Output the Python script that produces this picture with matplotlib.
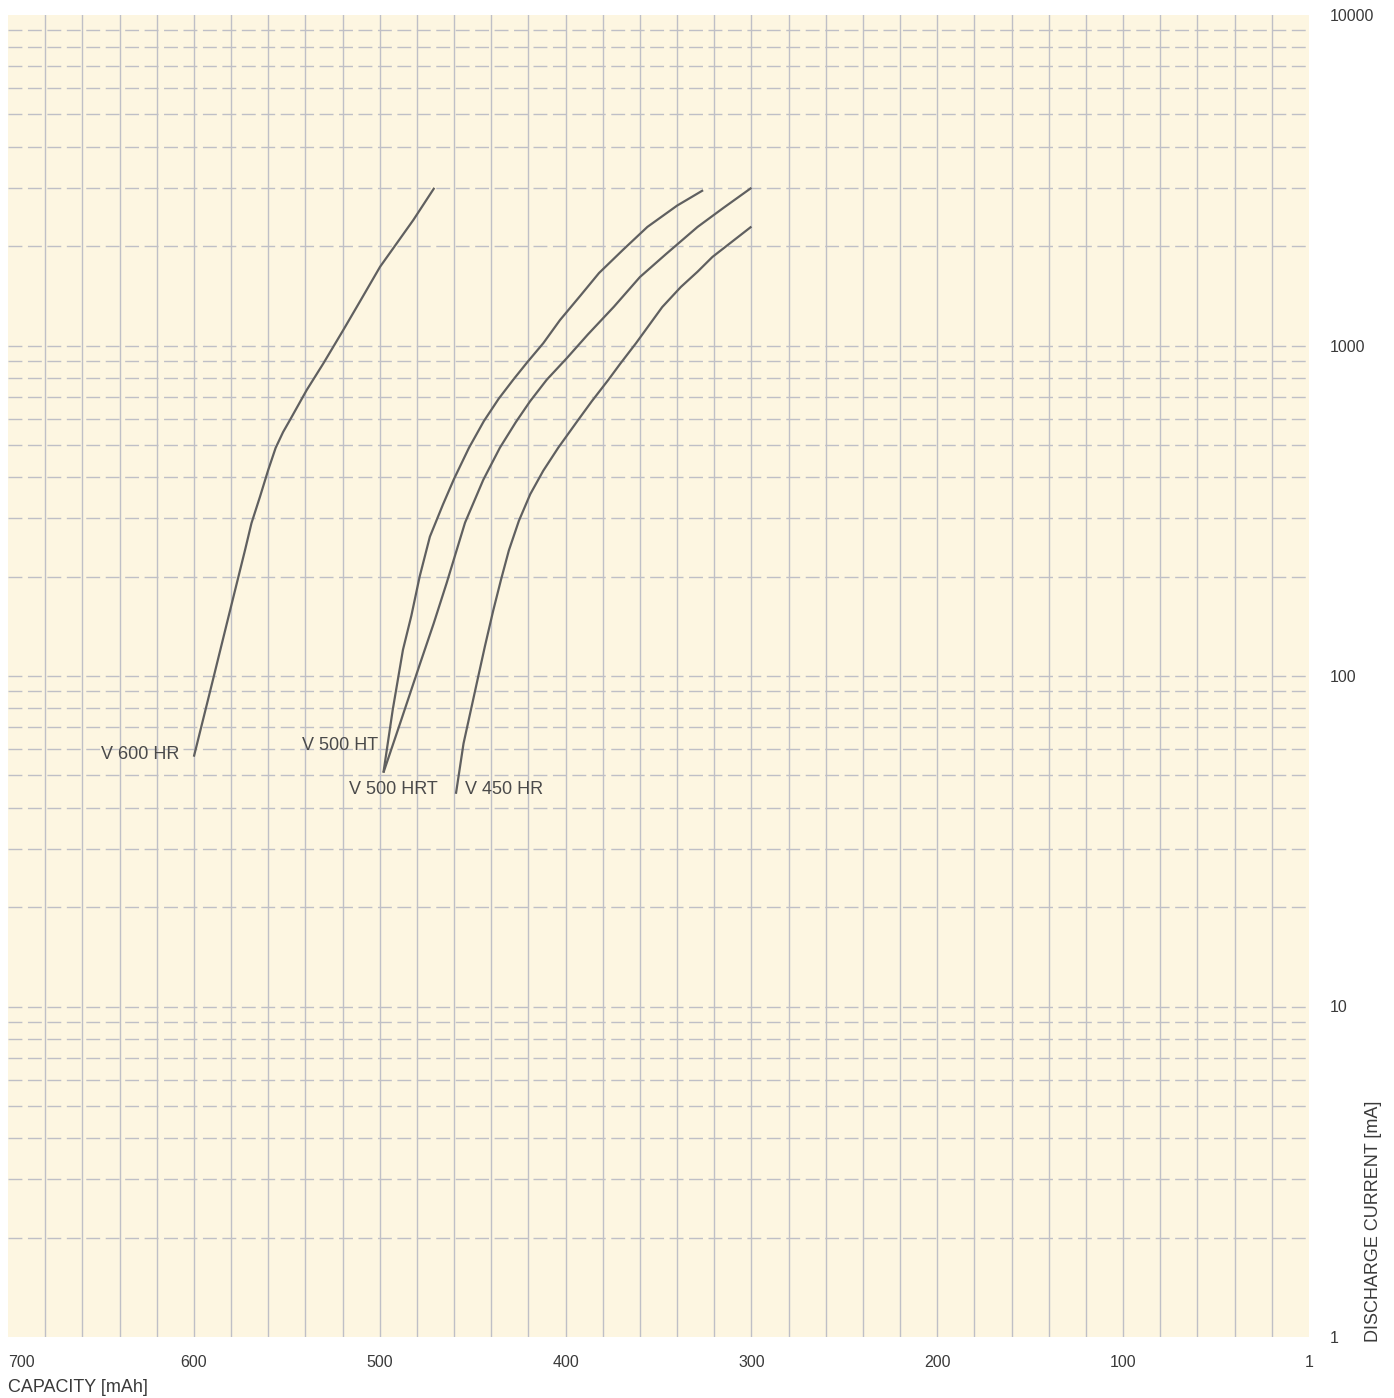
import numpy as np
import matplotlib
matplotlib.use("Agg")
import matplotlib.pyplot as plt

plt.rcParams['font.family'] = ['Liberation Sans', 'DejaVu Sans']

# --- Daten ---
# Kapazitaet [mAh] / Entladestrom [mA]
v600hr_cap = [600, 590, 581, 572.5, 569, 564.4, 560, 556, 552, 548.3, 539.3, 530.3, 519.6, 510.6, 499.8, 481.9, 470.6]
v600hr_cur = [57, 96, 154, 240, 290, 349, 420, 490, 547, 595, 733, 883, 1114, 1360, 1731, 2398, 3000]

v500ht_cap = [498, 493, 487.5, 483, 478.5, 473, 466, 460, 452, 444, 436, 428, 420.6, 412, 403, 392, 382, 369, 356, 340, 326]
v500ht_cur = [51, 79, 120, 152, 200, 264, 330, 395, 490, 590, 690, 790, 890, 1016, 1194, 1416, 1657, 1950, 2284, 2650, 2950]

v500hrt_cap = [498, 489, 478.3, 471, 464, 454.1, 444.3, 435.3, 426.7, 419.1, 410.2, 399, 388, 374, 360, 346, 329, 315, 300]
v500hrt_cur = [51, 72, 109, 144, 191, 291, 392, 491, 587, 678, 787, 920, 1080, 1310, 1611, 1890, 2284, 2610, 3000]

v450hr_cap = [459, 454.9, 447.8, 443.4, 438.9, 434.7, 430.5, 425.1, 419, 412, 403.9, 394, 385.9, 377, 370.7, 362, 348, 338, 329, 321, 300]
v450hr_cur = [44, 62.5, 95, 123, 158, 196, 240, 295, 355, 418, 491, 587, 678, 787, 879, 1018, 1307, 1503, 1672, 1853, 2290]

curve_labels = ['V 600 HR', 'V 500 HT', 'V 500 HRT', 'V 450 HR']
label_pos = [(608, 58, 'right'), (501, 61.5, 'right'), (469, 45.5, 'right'), (454, 45.5, 'left')]

x_ticks = [700, 600, 500, 400, 300, 200, 100, 0]
x_ticklabels = ['700', '600', '500', '400', '300', '200', '100', '1']
y_ticks = [1, 10, 100, 1000, 10000]
y_ticklabels = ['1', '10', '100', '1000', '10000']

# --- Plot ---
W, H = 1394, 1398
fig = plt.figure(figsize=(W / 100, H / 100), dpi=100)
ax = fig.add_axes([8 / W, 1 - 1337 / H, 1301 / W, 1322 / H])
ax.set_facecolor('#fdf6e1')

ax.set_yscale('log')
ax.set_xlim(700, 0)
ax.set_ylim(1, 10000)

grid_col = '#bfbfc6'
for xv in np.arange(20, 700, 20):
    ax.axvline(xv, color=grid_col, lw=1.0, zorder=1)
for dec in [1, 10, 100, 1000]:
    for m in range(1, 10):
        yv = dec * m
        if yv <= 1:
            continue
        ax.axhline(yv, color=grid_col, lw=1.0, dashes=(10, 4), zorder=1)

line_col = '#606060'
for cap, cur in [(v600hr_cap, v600hr_cur), (v500ht_cap, v500ht_cur),
                 (v500hrt_cap, v500hrt_cur), (v450hr_cap, v450hr_cur)]:
    ax.plot(cap, cur, color=line_col, lw=1.6, zorder=3,
            solid_capstyle='butt', solid_joinstyle='round')

for txt, (xp, yp, ha) in zip(curve_labels, label_pos):
    ax.text(xp, yp, txt, ha=ha, va='center', fontsize=13, color='#4a4a4a', zorder=4)

for s in ax.spines.values():
    s.set_visible(False)

ax.set_xticks(x_ticks)
ax.set_xticklabels(x_ticklabels)
ax.xaxis.set_minor_locator(matplotlib.ticker.NullLocator())
ax.yaxis.set_minor_locator(matplotlib.ticker.NullLocator())
ax.set_yticks(y_ticks)
ax.set_yticklabels(y_ticklabels)
ax.yaxis.tick_right()
ax.tick_params(axis='both', length=0, labelsize=11.5, labelcolor='#3a3a3a')
ax.tick_params(axis='x', pad=13)
ax.tick_params(axis='y', pad=15)
for lab in ax.get_yticklabels():
    lab.set_horizontalalignment('left')
ax.get_xticklabels()[0].set_horizontalalignment('left')

fig.text(8 / W, 1 - 1387 / H, 'CAPACITY [mAh]', ha='left', va='center',
         fontsize=13, color='#3a3a3a')
fig.text(1373 / W, 1 - 1342 / H, 'DISCHARGE CURRENT [mA]', ha='center', va='bottom',
         rotation=90, fontsize=13, color='#3a3a3a')

fig.savefig('out.png', dpi=100, facecolor='white')
